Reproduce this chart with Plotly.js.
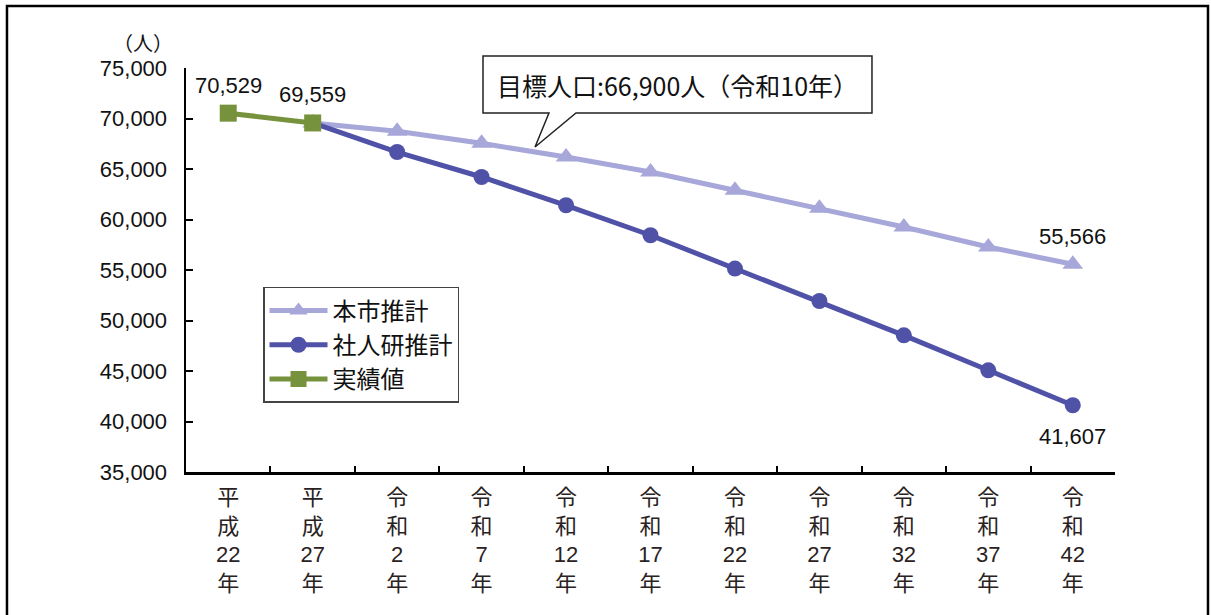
<!DOCTYPE html>
<html>
<head>
<meta charset="utf-8">
<script src="https://cdn.plot.ly/plotly-3.0.1.min.js"></script>
<style>
html,body{margin:0;padding:0;background:#fff;}
#chart{width:1211px;height:615px;}
</style>
</head>
<body>
<div id="chart"></div>
<script>
// ---- data ----
const categories = ["平成22年","平成27年","令和2年","令和7年","令和12年","令和17年","令和22年","令和27年","令和32年","令和37年","令和42年"];
const tickLabels = ["平<br>成<br>22<br>年","平<br>成<br>27<br>年","令<br>和<br>2<br>年","令<br>和<br>7<br>年","令<br>和<br>12<br>年","令<br>和<br>17<br>年","令<br>和<br>22<br>年","令<br>和<br>27<br>年","令<br>和<br>32<br>年","令<br>和<br>37<br>年","令<br>和<br>42<br>年"];
const cityEstimate   = [null, 69559, 68730, 67540, 66190, 64700, 62890, 61110, 59260, 57280, 55566];
const ipssEstimate   = [null, 69559, 66680, 64210, 61410, 58440, 55140, 51930, 48535, 45070, 41607];
const actual         = [70529, 69559, null, null, null, null, null, null, null, null, null];
const seriesNames    = ["本市推計","社人研推計","実績値"];
const calloutText    = "目標人口:66,900人（令和10年）";
const unitLabel      = "（人）";
// labelled points
const labelled = [
  {vals: actual, i: 0, shift: 28},
  {vals: actual, i: 1, shift: 28},
  {vals: cityEstimate, i: 10, shift: 28},
  {vals: ipssEstimate, i: 10, shift: -31}
];

const FONT = "'Liberation Sans', Arial, 'Noto Sans CJK JP', sans-serif";
const JFONT = "'Noto Sans CJK JP', 'Liberation Sans', sans-serif";

const traces = [
  {x: categories, y: cityEstimate, name: seriesNames[0], mode: "lines+markers",
   line: {color: "#A7A7DA", width: 5},
   marker: {symbol: "triangle-up", size: 18, color: "#A7A7DA"}},
  {x: categories, y: ipssEstimate, name: seriesNames[1], mode: "lines+markers",
   line: {color: "#5052A8", width: 5},
   marker: {symbol: "circle", size: 16, color: "#5052A8"}},
  {x: categories, y: actual, name: seriesNames[2], mode: "lines+markers",
   line: {color: "#76923C", width: 5},
   marker: {symbol: "square", size: 17, color: "#76923C"}}
];

const fmt = v => v.toLocaleString("en-US");
const annotations = labelled.map(l => ({
  x: categories[l.i], y: l.vals[l.i], xref: "x", yref: "y",
  text: fmt(l.vals[l.i]), showarrow: false, yshift: l.shift,
  font: {family: FONT, size: 22, color: "#111"}
}));
annotations.push({
  x: -0.046, y: 1.064, xref: "paper", yref: "paper", xanchor: "center", yanchor: "middle",
  text: unitLabel, showarrow: false, font: {family: JFONT, size: 20, color: "#111"}
});
annotations.push({
  x: 0.529, y: 0.959, xref: "paper", yref: "paper", xanchor: "center", yanchor: "middle",
  text: calloutText, showarrow: false, font: {family: JFONT, size: 25, color: "#111"}
});

const shapes = [
  // outer frame
  {type: "rect", xref: "paper", yref: "paper", x0: -0.1927, x1: 1.1001, y0: -0.40, y1: 1.1535,
   line: {color: "#000", width: 2.5}, fillcolor: "rgba(0,0,0,0)", layer: "below"},
  // callout box with pointer
  {type: "path", xref: "paper", yref: "paper",
   path: "M 0.3197 1.0297 L 0.7384 1.0297 L 0.7384 0.8886 L 0.4198 0.8886 L 0.3757 0.8045 L 0.3907 0.8886 L 0.3197 0.8886 Z",
   line: {color: "#222", width: 1.5}, fillcolor: "#fff", layer: "above"}
];

const layout = {
  width: 1211, height: 615,
  margin: {l: 186, r: 96, t: 68, b: 143},
  paper_bgcolor: "#fff", plot_bgcolor: "#fff",
  showlegend: true,
  legend: {x: 0.0829, y: 0.458, xanchor: "left", yanchor: "top",
           bordercolor: "#444", borderwidth: 1.5, bgcolor: "#fff",
           font: {family: JFONT, size: 24, color: "#111"}, itemwidth: 58},
  xaxis: {type: "category", range: [-0.5, 10.5], tickmode: "array",
          tickvals: categories, ticktext: tickLabels, tickson: "boundaries",
          ticks: "inside", ticklen: 6, tickwidth: 2, tickcolor: "#000",
          showline: true, linecolor: "#000", linewidth: 2.5, showgrid: false, zeroline: false,
          tickfont: {family: FONT, size: 22, color: "#2a2222"}, ticklabelstandoff: 4, fixedrange: true},
  yaxis: {range: [35000, 75000], dtick: 5000, tickformat: ",d",
          ticks: "inside", ticklen: 7, tickwidth: 2, tickcolor: "#000",
          showline: true, linecolor: "#000", linewidth: 2.5, showgrid: false, zeroline: false,
          tickfont: {family: FONT, size: 22, color: "#111"}, ticklabelstandoff: 12, fixedrange: true},
  annotations: annotations,
  shapes: shapes
};

Plotly.newPlot("chart", traces, layout, {displayModeBar: false, staticPlot: true});
</script>
</body>
</html>
